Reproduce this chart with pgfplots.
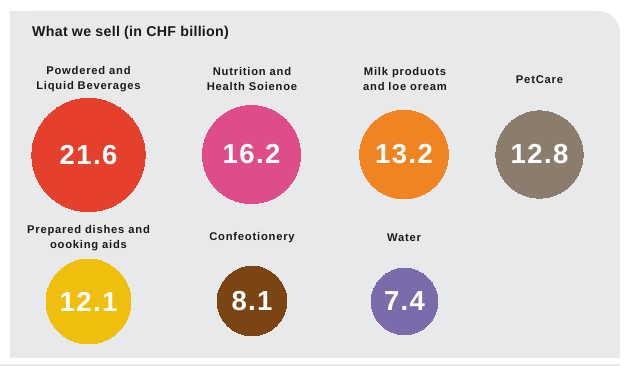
\documentclass[border=0pt]{standalone}
\usepackage{fontspec}
\setmainfont{Liberation Sans}
\newfontfamily\labfont[LetterSpace=7]{Liberation Sans}
\newfontfamily\numfont[LetterSpace=5]{Liberation Sans}
\newfontfamily\titlefont[LetterSpace=2]{Liberation Sans}
\usepackage{pgfplots}
\pgfplotsset{compat=1.18}
\definecolor{panelgray}{HTML}{E8E9EB}
\definecolor{linegray}{HTML}{E6E7E9}
\definecolor{labcol}{HTML}{1A1A1A}
\definecolor{cred}{HTML}{E5402B}
\definecolor{cpink}{HTML}{DE4C8A}
\definecolor{corange}{HTML}{F08322}
\definecolor{ctaupe}{HTML}{8B7D6E}
\definecolor{cyellow}{HTML}{F0BE0C}
\definecolor{cbrown}{HTML}{7B4413}
\definecolor{cpurple}{HTML}{7C6BAA}
\newcommand{\bubble}[4]{%
  \addplot[only marks, color=#4, mark=*, mark options={draw=#4, fill=#4, line width=0pt}, mark size={12.2*sqrt(#3)},
    point meta=explicit,
    nodes near coords={\pgfmathprintnumber[fixed,fixed zerofill,precision=1,assume math mode=true]{\pgfplotspointmeta}},
    every node near coord/.append style={anchor=center, text=white, font=\numfont\bfseries\fontsize{27.5}{29}\selectfont}]
    coordinates {(#1,#2) [#3]};}
\begin{document}
\begin{tikzpicture}
\begin{axis}[x=1pt, y=1pt, xmin=0, xmax=640, ymin=0, ymax=366, hide axis, clip=false]
\fill[white] (axis cs:0,0) rectangle (axis cs:640,366);
\fill[linegray] (axis cs:0,0) rectangle (axis cs:620,1.6);
\fill[panelgray, rounded corners=22pt] (axis cs:10,8) rectangle (axis cs:620,355);
\fill[panelgray] (axis cs:10,8) rectangle (axis cs:595,355);
\fill[panelgray] (axis cs:10,8) rectangle (axis cs:620,330);
\node[anchor=west, inner xsep=0pt, text=labcol, font=\titlefont\bfseries\fontsize{14.2}{16}\selectfont] at (axis cs:32,333.5) {What we sell (in CHF billion)};
\bubble{88.5}{211}{21.6}{cred}
\bubble{251.5}{211.5}{16.2}{cpink}
\bubble{404}{211.5}{13.2}{corange}
\bubble{539.5}{211.5}{12.8}{ctaupe}
\bubble{88.5}{64.5}{12.1}{cyellow}
\bubble{252}{65}{8.1}{cbrown}
\bubble{404.5}{64.5}{7.4}{cpurple}
\tikzset{lab/.style={align=center, text=labcol, font=\labfont\bfseries\fontsize{11.2}{15}\selectfont}}
\node[lab] at (axis cs:88.5,286.5) {Powdered and\\Liquid Beverages};
\node[lab] at (axis cs:252,286.5) {Nutrition and\\Health Soienoe};
\node[lab] at (axis cs:405,286.5) {Milk produots\\and loe oream};
\node[lab] at (axis cs:539.5,286) {PetCare};
\node[lab] at (axis cs:88.5,128) {Prepared dishes and\\oooking aids};
\node[lab] at (axis cs:252,128) {Confeotionery};
\node[lab] at (axis cs:404,128) {Water};
\end{axis}
\end{tikzpicture}
\end{document}
